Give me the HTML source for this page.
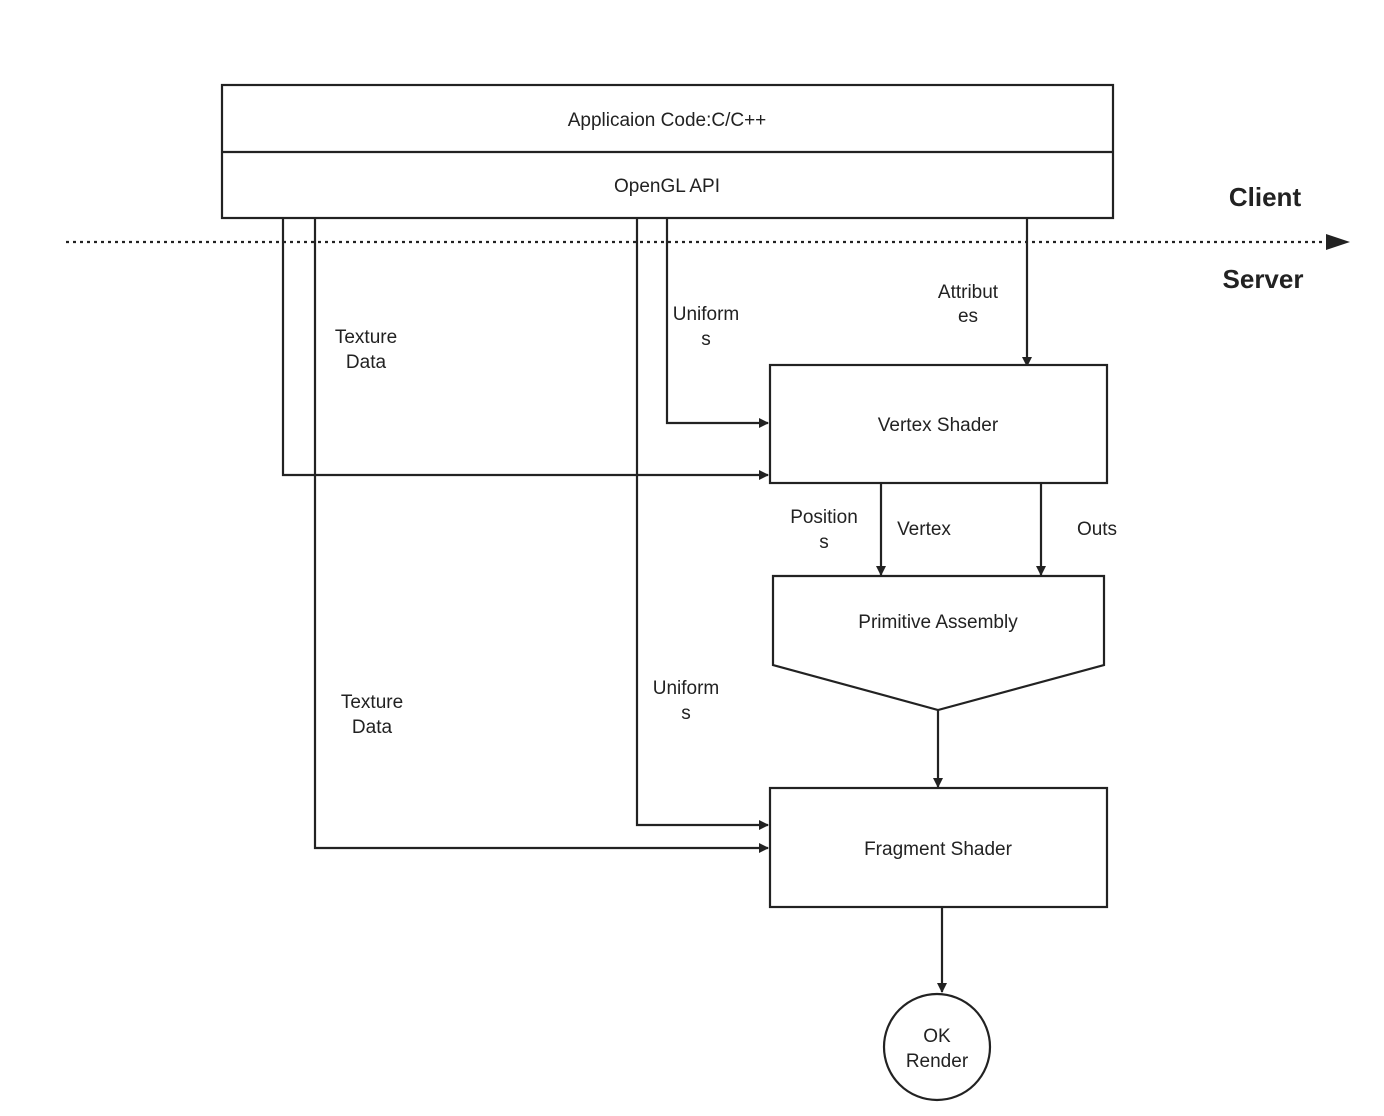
<!DOCTYPE html>
<html><head><meta charset="utf-8"><style>
html,body{margin:0;padding:0;background:#fff;}
svg{display:block;}
text{font-family:"Liberation Sans","DejaVu Sans",sans-serif;font-size:19px;fill:#222;}
</style></head><body>
<svg width="1384" height="1116" viewBox="0 0 1384 1116" xmlns="http://www.w3.org/2000/svg">
<defs>
<marker id="a" markerWidth="10" markerHeight="10" refX="9" refY="5" orient="auto" markerUnits="userSpaceOnUse" viewBox="0 0 10 10">
<path d="M0,0 L10,5 L0,10 z" fill="#222"/>
</marker>
</defs>
<g stroke="#222" stroke-width="2.2" fill="none">
<rect x="222" y="85" width="891" height="133" fill="#fff"/>
<line x1="222" y1="152" x2="1113" y2="152"/>
<line x1="66" y1="242" x2="1330" y2="242" stroke-dasharray="3,4"/>
<path d="M1326,234 L1350,242 L1326,250 z" fill="#222" stroke="none"/>
<polyline points="283,218 283,475 768,475" marker-end="url(#a)" style="marker-end:url(#a)"/>
<polyline points="315,218 315,848 768,848" marker-end="url(#a)"/>
<polyline points="637,218 637,825 768,825" marker-end="url(#a)"/>
<polyline points="667,218 667,423 768,423" marker-end="url(#a)"/>
<line x1="1027" y1="218" x2="1027" y2="366" marker-end="url(#a)"/>
<rect x="770" y="365" width="337" height="118" fill="#fff"/>
<line x1="881" y1="483" x2="881" y2="575" marker-end="url(#a)"/>
<line x1="1041" y1="483" x2="1041" y2="575" marker-end="url(#a)"/>
<polygon points="773,576 1104,576 1104,665 938,710 773,665" fill="#fff"/>
<line x1="938" y1="710" x2="938" y2="787" marker-end="url(#a)"/>
<rect x="770" y="788" width="337" height="119" fill="#fff"/>
<line x1="942" y1="907" x2="942" y2="992" marker-end="url(#a)"/>
<circle cx="937" cy="1047" r="53" fill="#fff"/>
</g>
<g text-anchor="middle">
<text x="667" y="126">Applicaion Code:C/C++</text>
<text x="667" y="192">OpenGL API</text>
<text x="1265" y="206" style="font-size:26px;font-weight:bold">Client</text>
<text x="1263" y="288" style="font-size:26px;font-weight:bold">Server</text>
<text x="366" y="343">Texture</text><text x="366" y="368">Data</text>
<text x="706" y="320">Uniform</text><text x="706" y="345">s</text>
<text x="968" y="298">Attribut</text><text x="968" y="322">es</text>
<text x="938" y="431">Vertex Shader</text>
<text x="824" y="523">Position</text><text x="824" y="548">s</text>
<text x="924" y="535">Vertex</text>
<text x="1097" y="535">Outs</text>
<text x="938" y="628">Primitive Assembly</text>
<text x="372" y="708">Texture</text><text x="372" y="733">Data</text>
<text x="686" y="694">Uniform</text><text x="686" y="719">s</text>
<text x="938" y="855">Fragment Shader</text>
<text x="937" y="1042">OK</text><text x="937" y="1067">Render</text>
</g>
</svg>
</body></html>
